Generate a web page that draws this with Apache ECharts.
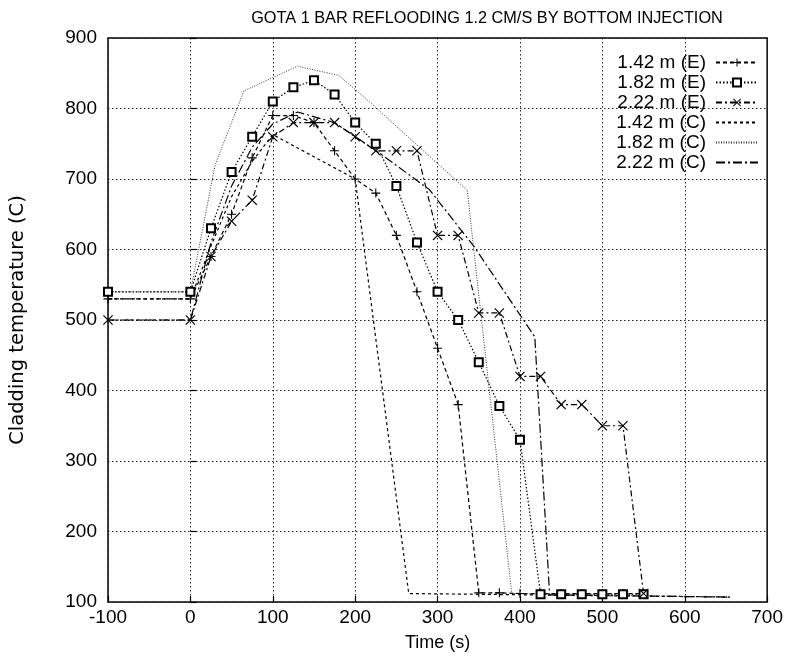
<!DOCTYPE html>
<html>
<head>
<meta charset="utf-8">
<script src="https://cdn.jsdelivr.net/npm/echarts@6/dist/echarts.min.js"></script>
<style>
  html, body { margin: 0; padding: 0; background: #fff; }
  #chart { width: 786px; height: 657px; }
</style>
</head>
<body>
<div id="chart"></div>
<script>
// Measured cladding temperatures (E) sampled every 25 s
const timeExp = [-100, 0, 25, 50, 75, 100, 125, 150, 175, 200, 225, 250, 275, 300, 325, 350, 375, 400, 425, 450, 475, 500, 525, 550];
const exp142 = [530, 530, 590, 650, 730, 790, 790, 780, 740, 700, 680, 620, 540, 460, 380, 113, 113, 112, 112, 112, 112, 112, 112, 112];
const exp182 = [540, 540, 630, 710, 760, 810, 830, 840, 820, 780, 750, 690, 610, 540, 500, 440, 378, 330, 111, 111, 111, 111, 111, 111];
const exp222 = [500, 500, 590, 640, 670, 760, 780, 780, 780, 760, 740, 740, 740, 620, 620, 510, 510, 420, 420, 380, 380, 350, 350, 112];

// Calculated cladding temperatures (C)
const timeCalc142 = [-100, 0, 25, 50, 75, 100, 200, 265, 655];
const calc142 = [530, 530, 605, 675, 725, 763, 700, 112, 107];
const timeCalc182 = [-100, 0, 30, 65, 130, 180, 215, 278, 336, 390, 655];
const calc182 = [540, 540, 720, 825, 860, 847, 812, 745, 684, 112, 107];
const timeCalc222 = [-100, 0, 25, 50, 75, 100, 130, 175, 228, 290, 345, 418, 436, 655];
const calc222 = [500, 500, 610, 690, 745, 778, 795, 780, 738, 685, 603, 476, 110, 107];

const seriesNames = ['1.42 m (E)', '1.82 m (E)', '2.22 m (E)', '1.42 m (C)', '1.82 m (C)', '2.22 m (C)'];

const pairs = (xs, ys) => xs.map((x, i) => [x, ys[i]]);

const FONT = '"Liberation Sans", Arial, sans-serif';
const PLUS = 'path://M4.4,0H5.6V10H4.4Z M0,4.4H10V5.6H0Z';
const CROSS = 'path://M0,0.8L0.8,0L5,4.2L9.2,0L10,0.8L5.8,5L10,9.2L9.2,10L5,5.8L0.8,10L0,9.2L4.2,5Z';

// Measured series carry markers; calculated series are plain lines
function lineSeries(name, data, dash, width, color, symbol, symbolSize) {
  const s = {
    name: name,
    type: 'line',
    data: data,
    smooth: false,
    animation: false,
    lineStyle: { color: color, width: width, type: dash },
    z: 3
  };
  if (symbol) {
    s.symbol = symbol;
    s.symbolSize = symbolSize;
    s.showSymbol = true;
    s.itemStyle = symbol === 'emptyRect'
      ? { color: '#000', borderColor: '#000', borderWidth: 1 }
      : { color: '#000', borderWidth: 0 };
  } else {
    s.symbol = 'circle';
    s.symbolSize = 0;
    s.showSymbol = false;
    s.itemStyle = { color: 'rgba(0,0,0,0)', borderWidth: 0 };
  }
  return s;
}

const chart = echarts.init(document.getElementById('chart'), null, { renderer: 'canvas' });

chart.setOption({
  backgroundColor: '#fff',
  animation: false,
  title: {
    text: 'GOTA 1 BAR REFLOODING 1.2 CM/S BY BOTTOM INJECTION',
    left: 482,
    top: 6,
    textAlign: 'center',
    textStyle: { fontFamily: FONT, fontSize: 16.3, fontWeight: 'normal', color: '#000' }
  },
  grid: {
    left: 108, right: 14, top: 38, bottom: 54,
    show: true, borderColor: '#000', borderWidth: 1.5, backgroundColor: 'transparent'
  },
  legend: {
    orient: 'vertical',
    right: 22,
    top: 48,
    align: 'right',
    itemWidth: 42,
    itemHeight: 10,
    itemGap: 1,
    data: seriesNames,
    textStyle: { fontFamily: FONT, fontSize: 19, color: '#000', padding: [0, 5, 0, 0] }
  },
  xAxis: {
    type: 'value',
    min: -100, max: 700, interval: 100,
    name: 'Time (s)',
    nameLocation: 'middle',
    nameGap: 32,
    nameTextStyle: { fontFamily: FONT, fontSize: 18, color: '#000' },
    axisLine: { show: false },
    axisTick: { show: true, inside: true, length: 6, lineStyle: { color: '#000', width: 1.2 } },
    axisLabel: { fontFamily: FONT, fontSize: 19, color: '#000', margin: 6 },
    splitLine: { show: true, lineStyle: { color: '#222', width: 1, type: [1.5, 2.5] } }
  },
  yAxis: {
    type: 'value',
    min: 100, max: 900, interval: 100,
    name: 'Cladding temperature (C)',
    nameLocation: 'middle',
    nameGap: 80,
    nameRotate: 90,
    nameTextStyle: { fontFamily: '"DejaVu Sans", Arial, sans-serif', fontSize: 19.5, color: '#000' },
    axisLine: { show: false },
    axisTick: { show: true, inside: true, length: 6, lineStyle: { color: '#000', width: 1.2 } },
    axisLabel: { fontFamily: FONT, fontSize: 19, color: '#000', margin: 11 },
    splitLine: { show: true, lineStyle: { color: '#222', width: 1, type: [1.5, 2.5] } }
  },
  series: [
    lineSeries(seriesNames[0], pairs(timeExp, exp142), [4, 3], 1.2, '#000', PLUS, 9),
    lineSeries(seriesNames[1], pairs(timeExp, exp182), [1.5, 2], 1.2, '#000', 'emptyRect', 8),
    lineSeries(seriesNames[2], pairs(timeExp, exp222), [6, 3, 2, 3], 1.2, '#000', CROSS, 10),
    lineSeries(seriesNames[3], pairs(timeCalc142, calc142), [3, 3], 1.2, '#000'),
    lineSeries(seriesNames[4], pairs(timeCalc182, calc182), [1, 1.5], 1, '#333'),
    lineSeries(seriesNames[5], pairs(timeCalc222, calc222), [9, 3, 2, 3], 1.2, '#000')
  ]
});
</script>
</body>
</html>
